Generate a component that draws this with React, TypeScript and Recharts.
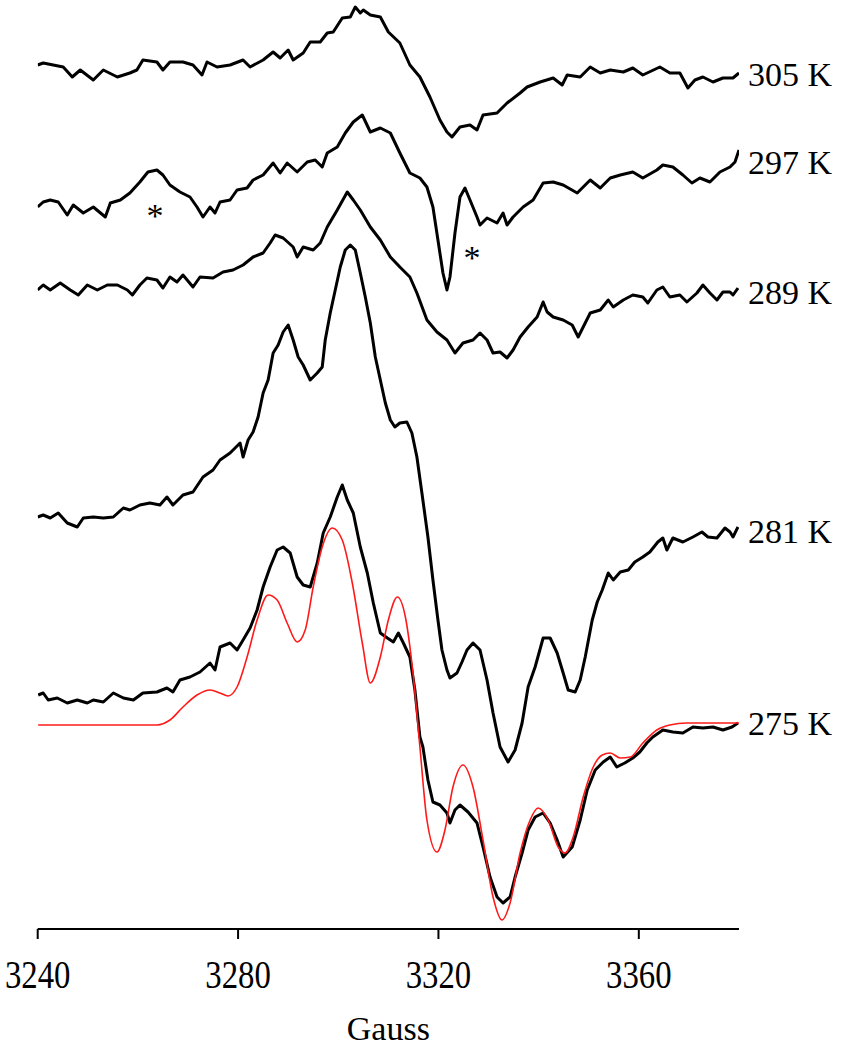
import React from 'react';
import { LineChart, Line, XAxis, YAxis, ReferenceDot } from 'recharts';

// x: magnetic field (Gauss), y: offset intensity (a.u.)
const gaussTicks = [3240, 3280, 3320, 3360];

const spec305: [number, number][] = [
  [3240.0, 864], [3241.1, 866], [3243.1, 864], [3245.1, 862], [3246.9, 852], [3248.5, 859], [3251.1, 849], [3253.1, 859],
  [3255.9, 852], [3258.4, 856], [3259.8, 859], [3261.0, 869], [3263.8, 867], [3265.0, 859], [3266.4, 867], [3269.0, 867],
  [3271.0, 864], [3272.8, 854], [3273.8, 867], [3275.8, 862], [3278.4, 864], [3281.0, 869], [3282.4, 862], [3285.0, 869],
  [3287.0, 877], [3288.4, 871], [3290.0, 879], [3291.0, 869], [3293.0, 876], [3294.4, 887], [3296.4, 887], [3297.8, 896],
  [3299.0, 897], [3300.8, 911], [3302.4, 912], [3303.4, 922], [3304.4, 916], [3305.0, 919], [3306.4, 914], [3308.4, 912],
  [3310.0, 897], [3312.3, 886], [3314.3, 864], [3316.3, 852], [3318.3, 832], [3320.3, 809], [3321.7, 797], [3322.7, 792],
  [3324.3, 802], [3326.3, 804], [3327.7, 799], [3328.9, 814], [3331.7, 816], [3333.7, 826], [3336.3, 836], [3337.7, 842],
  [3340.3, 847], [3342.9, 851], [3344.7, 844], [3345.7, 854], [3348.3, 852], [3350.3, 862], [3352.3, 856], [3354.3, 859],
  [3356.9, 857], [3358.8, 861], [3360.8, 854], [3364.2, 862], [3366.2, 856], [3368.2, 856], [3369.8, 841], [3371.2, 849],
  [3372.8, 852], [3374.8, 847], [3376.8, 851], [3378.8, 851], [3380.0, 856],
];

const spec297: [number, number][] = [
  [3240.0, 722], [3241.1, 727], [3242.5, 729], [3244.1, 727], [3245.9, 714], [3247.1, 724], [3249.1, 716], [3251.1, 722],
  [3253.5, 712], [3254.5, 726], [3256.5, 729], [3258.4, 736], [3260.4, 747], [3262.0, 757], [3263.8, 759], [3265.0, 754],
  [3266.4, 744], [3268.4, 737], [3270.4, 732], [3271.8, 722], [3273.0, 712], [3274.4, 722], [3275.4, 716], [3276.4, 727],
  [3278.4, 729], [3279.8, 739], [3281.8, 741], [3283.0, 749], [3285.0, 754], [3287.0, 766], [3288.4, 756], [3289.8, 766],
  [3291.8, 757], [3293.8, 767], [3295.4, 769], [3296.8, 762], [3297.8, 776], [3299.8, 782], [3301.4, 796], [3303.0, 807],
  [3304.8, 814], [3306.4, 797], [3308.4, 801], [3310.4, 796], [3312.3, 776], [3314.3, 756], [3316.3, 751], [3317.7, 742],
  [3318.9, 722], [3319.9, 689], [3320.9, 656], [3321.7, 639], [3322.3, 652], [3323.3, 696], [3324.3, 732], [3325.3, 741],
  [3326.3, 729], [3327.7, 712], [3328.3, 704], [3329.7, 711], [3331.7, 706], [3332.9, 716], [3333.7, 704], [3334.9, 712],
  [3336.9, 722], [3338.9, 729], [3340.9, 746], [3342.9, 747], [3344.9, 744], [3347.7, 736], [3350.3, 749], [3352.3, 741],
  [3354.3, 751], [3356.3, 754], [3358.8, 757], [3360.8, 751], [3363.6, 759], [3364.8, 764], [3366.8, 762], [3368.8, 754],
  [3370.6, 746], [3372.2, 751], [3374.2, 747], [3376.2, 757], [3378.2, 762], [3379.2, 767], [3380.0, 779],
];

const spec289: [number, number][] = [
  [3240.0, 639], [3241.1, 644], [3242.5, 639], [3244.5, 646], [3246.5, 639], [3248.1, 634], [3249.9, 644], [3251.9, 639],
  [3253.9, 644], [3255.9, 644], [3257.9, 639], [3258.9, 634], [3260.4, 644], [3261.8, 651], [3263.8, 649], [3265.0, 641],
  [3266.4, 652], [3267.8, 647], [3269.0, 654], [3271.0, 642], [3272.4, 652], [3275.0, 651], [3277.0, 657], [3279.0, 659],
  [3281.0, 664], [3283.0, 672], [3285.0, 676], [3286.4, 686], [3287.4, 694], [3289.0, 691], [3291.0, 682], [3291.8, 672],
  [3293.0, 682], [3295.0, 679], [3296.4, 686], [3297.8, 702], [3299.8, 719], [3301.8, 737], [3303.0, 729], [3304.4, 719],
  [3306.4, 702], [3308.4, 689], [3310.4, 672], [3312.3, 662], [3314.3, 652], [3315.7, 636], [3317.7, 609], [3319.7, 597],
  [3321.7, 589], [3323.3, 576], [3324.9, 586], [3326.9, 589], [3328.3, 596], [3329.7, 589], [3330.9, 576], [3332.3, 577],
  [3333.7, 571], [3334.9, 579], [3336.3, 592], [3337.9, 602], [3339.7, 612], [3340.9, 627], [3341.7, 617], [3342.9, 612],
  [3344.9, 609], [3346.7, 604], [3347.9, 592], [3348.9, 602], [3350.3, 616], [3352.3, 619], [3353.9, 629], [3354.9, 622],
  [3356.9, 629], [3358.8, 634], [3360.8, 632], [3361.8, 626], [3363.6, 639], [3364.8, 642], [3366.2, 632], [3368.2, 634],
  [3369.6, 627], [3371.6, 636], [3372.8, 644], [3374.2, 636], [3375.6, 629], [3376.8, 637], [3378.2, 637], [3378.8, 634],
  [3379.8, 641],
];

const spec281: [number, number][] = [
  [3240.0, 412], [3241.1, 414], [3242.5, 411], [3244.1, 416], [3245.9, 406], [3247.9, 402], [3249.1, 411], [3251.1, 412],
  [3253.1, 411], [3255.1, 412], [3257.1, 421], [3258.4, 419], [3260.4, 424], [3262.4, 426], [3264.4, 424], [3265.8, 432],
  [3267.0, 424], [3269.0, 434], [3271.0, 437], [3273.0, 452], [3275.0, 459], [3276.4, 469], [3278.4, 476], [3280.4, 486],
  [3281.0, 472], [3282.0, 489], [3283.0, 497], [3284.0, 512], [3285.0, 536], [3286.0, 549], [3287.0, 576], [3288.0, 584],
  [3289.0, 597], [3290.0, 604], [3291.0, 589], [3292.0, 572], [3293.0, 564], [3294.4, 549], [3295.8, 556], [3296.8, 562],
  [3297.4, 589], [3298.4, 616], [3299.4, 639], [3300.4, 662], [3301.4, 679], [3302.4, 684], [3303.4, 679], [3304.4, 656],
  [3305.4, 632], [3306.4, 606], [3307.4, 572], [3308.4, 549], [3309.4, 526], [3310.4, 509], [3311.3, 502], [3312.3, 506],
  [3313.7, 507], [3314.7, 496], [3315.7, 472], [3316.7, 436], [3317.9, 392], [3318.9, 349], [3319.9, 309], [3320.7, 279],
  [3321.7, 259], [3322.3, 251], [3323.7, 256], [3324.7, 267], [3325.7, 279], [3326.9, 286], [3328.3, 279], [3329.7, 249],
  [3330.9, 216], [3332.3, 182], [3333.9, 167], [3335.3, 179], [3336.7, 206], [3337.9, 242], [3339.3, 262], [3340.9, 291],
  [3342.3, 291], [3343.7, 276], [3344.9, 256], [3345.9, 239], [3347.3, 237], [3348.3, 249], [3349.3, 272], [3350.7, 309],
  [3351.7, 327], [3352.7, 339], [3353.9, 356], [3354.9, 349], [3356.3, 357], [3357.9, 359], [3359.2, 367], [3360.8, 372],
  [3362.2, 377], [3363.8, 387], [3364.8, 391], [3365.6, 379], [3366.8, 391], [3368.8, 387], [3370.8, 392], [3372.6, 397],
  [3373.8, 392], [3375.6, 391], [3377.2, 401], [3378.2, 397], [3378.8, 392], [3379.8, 402],
];

const spec275: [number, number][] = [
  [3240.1, 234], [3241.1, 236], [3242.1, 229], [3243.9, 231], [3245.9, 226], [3247.9, 229], [3249.9, 226], [3251.1, 229],
  [3253.1, 227], [3255.1, 236], [3257.1, 231], [3259.1, 229], [3261.0, 236], [3263.8, 237], [3265.8, 241], [3267.0, 237],
  [3268.4, 249], [3270.4, 252], [3272.4, 257], [3274.4, 266], [3275.4, 259], [3276.4, 282], [3278.4, 286], [3279.8, 279],
  [3281.0, 289], [3282.4, 301], [3283.8, 319], [3285.0, 342], [3286.4, 362], [3287.8, 379], [3289.0, 382], [3290.4, 376],
  [3291.8, 352], [3293.0, 344], [3294.4, 342], [3295.8, 366], [3297.0, 396], [3298.4, 412], [3299.8, 432], [3300.8, 444],
  [3301.8, 429], [3303.0, 416], [3304.4, 382], [3305.8, 356], [3307.0, 326], [3308.4, 296], [3309.8, 291], [3311.0, 287],
  [3312.0, 296], [3313.0, 286], [3314.3, 272], [3315.3, 239], [3316.3, 192], [3316.9, 182], [3317.9, 149], [3318.9, 127],
  [3320.3, 124], [3321.7, 116], [3322.3, 106], [3323.3, 119], [3324.3, 124], [3325.9, 117], [3327.7, 106], [3328.9, 82],
  [3330.3, 52], [3331.7, 32], [3332.9, 26], [3334.3, 32], [3335.3, 52], [3336.7, 76], [3337.9, 99], [3339.3, 112],
  [3340.9, 116], [3342.3, 106], [3343.7, 89], [3344.9, 72], [3346.7, 82], [3348.3, 109], [3349.7, 139], [3351.3, 159],
  [3352.9, 167], [3354.3, 172], [3355.6, 162], [3357.2, 166], [3358.8, 171], [3360.2, 177], [3361.6, 186], [3362.8, 192],
  [3364.8, 199], [3366.8, 197], [3368.8, 196], [3370.8, 202], [3372.8, 201], [3374.8, 202], [3376.8, 199], [3378.6, 202],
  [3379.8, 206],
];

const sim275: [number, number][] = [
  [3240.1, 204], [3263.8, 204], [3266.4, 209], [3269.0, 222], [3271.8, 234], [3274.4, 239], [3276.4, 236], [3278.0, 233],
  [3279.8, 242], [3281.8, 272], [3283.8, 309], [3286.0, 334], [3287.8, 329], [3289.8, 306], [3291.8, 287], [3293.4, 299],
  [3295.0, 342], [3296.8, 382], [3298.8, 401], [3300.8, 389], [3302.8, 346], [3304.8, 286], [3306.4, 246], [3308.4, 272],
  [3310.0, 309], [3311.8, 332], [3313.4, 312], [3315.0, 252], [3316.3, 182], [3317.7, 109], [3319.7, 77], [3321.3, 99],
  [3322.9, 142], [3324.9, 164], [3326.9, 142], [3328.9, 89], [3330.9, 32], [3332.7, 9], [3334.3, 26], [3336.3, 76],
  [3338.3, 109], [3339.9, 121], [3341.9, 109], [3343.9, 82], [3345.3, 76], [3346.9, 92], [3348.9, 132], [3350.9, 162],
  [3352.7, 174], [3354.3, 176], [3356.3, 171], [3358.3, 172], [3360.8, 186], [3363.6, 199], [3366.2, 204], [3369.6, 206],
  [3374.8, 206], [3380.0, 206],
];

const tempLabels: { text: string; g: number; v: number }[] = [
  { text: '305 K', g: 3380, v: 855 },
  { text: '297 K', g: 3380, v: 767 },
  { text: '289 K', g: 3380, v: 637 },
  { text: '281 K', g: 3380, v: 398 },
  { text: '275 K', g: 3380, v: 206 },
];

const asterisks: [number, number][] = [
  [3263.4, 719],
  [3326.7, 677],
];

const toRows = (arr: [number, number][]) => arr.map(([g, v]) => ({ g, v }));

const FONT = "'Liberation Serif', 'Times New Roman', serif";

const GaussTick = (props: any) => {
  const { x, y, payload } = props;
  return (
    <g transform={`translate(${x},${y})`}>
      <text transform="scale(0.82,1)" x={0} y={47} textAnchor="middle" fontSize={40} fontFamily={FONT} fill="#000">
        {payload.value}
      </text>
    </g>
  );
};

const blackSeries = [spec305, spec297, spec289, spec281, spec275];

export default function App() {
  return (
    <div style={{ position: 'absolute', left: 0, top: 0, background: '#fff' }}>
      <LineChart width={843} height={1050} margin={{ top: 0, right: 104, bottom: 0, left: 37.7 }}>
        <XAxis
          type="number"
          dataKey="g"
          domain={[3240, 3380]}
          ticks={gaussTicks}
          allowDataOverflow
          height={121}
          tickSize={10}
          tickMargin={2}
          axisLine={{ stroke: '#000', strokeWidth: 2.2 }}
          tickLine={{ stroke: '#000', strokeWidth: 2 }}
          tick={<GaussTick />}
          label={{ value: 'Gauss', position: 'insideBottom', offset: 10, fontSize: 34, fill: '#000', fontFamily: FONT }}
        />
        <YAxis type="number" dataKey="v" domain={[0, 929]} hide width={0} />
        {blackSeries.map((s, i) => (
          <Line
            key={i}
            data={toRows(s)}
            dataKey="v"
            type="linear"
            stroke="#000"
            strokeWidth={3}
            strokeLinejoin="round"
            dot={false}
            activeDot={false}
            isAnimationActive={false}
          />
        ))}
        <Line
          data={toRows(sim275)}
          dataKey="v"
          type="monotone"
          stroke="#ff1a1a"
          strokeWidth={1.6}
          dot={false}
          activeDot={false}
          isAnimationActive={false}
        />
        {tempLabels.map((t) => (
          <ReferenceDot
            key={t.text}
            x={t.g}
            y={t.v}
            r={0}
            fill="none"
            stroke="none"
            label={{ value: t.text, position: 'right', offset: 9, fontSize: 34, fill: '#000', fontFamily: FONT }}
          />
        ))}
        {asterisks.map(([g, v], i) => (
          <ReferenceDot
            key={'a' + i}
            x={g}
            y={v}
            r={0}
            fill="none"
            stroke="none"
            label={{ value: '*', position: 'center', fontSize: 34, fill: '#000', fontFamily: FONT, dy: 5 }}
          />
        ))}
      </LineChart>
    </div>
  );
}
